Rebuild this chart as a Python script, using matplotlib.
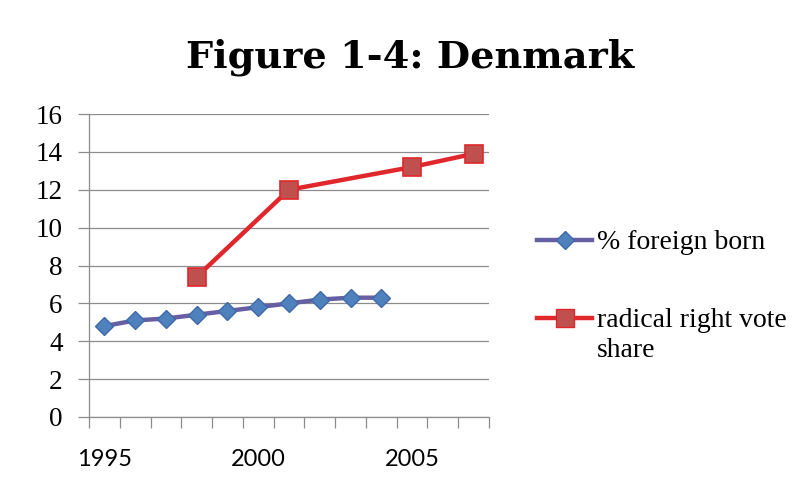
import numpy as np
import matplotlib.pyplot as plt
from matplotlib.lines import Line2D

# ------------------------------------------------------------------
# data
# ------------------------------------------------------------------
years = list(range(1995, 2008))
foreign_years = [1995, 1996, 1997, 1998, 1999, 2000, 2001, 2002, 2003, 2004]
foreign_born = [4.8, 5.1, 5.2, 5.4, 5.6, 5.8, 6.0, 6.2, 6.3, 6.3]
radical_years = [1998, 2001, 2005, 2007]
radical_share = [7.4, 12.0, 13.2, 13.9]
year_labels = ["1995", "2000", "2005"]
ytick_vals = [0, 2, 4, 6, 8, 10, 12, 14, 16]

# category positions (Excel-style category axis)
pos = {y: i for i, y in enumerate(years)}
fx = [pos[y] for y in foreign_years]
rx = [pos[y] for y in radical_years]

# colours
purple_line = "#675FA4"
blue_fill = "#4F81BD"
blue_edge = "#3F68AA"
red_line = "#E0282C"
red_fill = "#C0504D"
red_edge = "#E0262B"
grid_col = "#8C8C8C"

fig = plt.figure(figsize=(8.06, 4.99), dpi=100)
ax = fig.add_axes([89 / 806, 1 - 417 / 499, 400 / 806, 303 / 499])

ax.plot(fx, foreign_born, color=purple_line, linewidth=3.2, marker="D",
        markersize=9, markerfacecolor=blue_fill, markeredgecolor=blue_edge,
        markeredgewidth=1.0, zorder=3)
ax.plot(rx, radical_share, color=red_line, linewidth=3.2, marker="s",
        markersize=13, markerfacecolor=red_fill, markeredgecolor=red_edge,
        markeredgewidth=1.2, zorder=3)

ax.set_xlim(-0.5, len(years) - 0.5)
ax.set_ylim(0, 16)

# y axis
ax.set_yticks(ytick_vals)
ax.set_yticklabels([str(v) for v in ytick_vals], family="Liberation Serif", fontsize=19.5)
ax.yaxis.grid(True, color=grid_col, linewidth=0.9)
ax.set_axisbelow(True)
ax.tick_params(axis="y", length=8, color=grid_col, width=0.9, pad=11)

# x axis: labels every 5 years, tick marks between categories
ax.set_xticks([pos[int(s)] for s in year_labels])
ax.set_xticklabels(year_labels, family="Lato", fontsize=17)
ax.set_xticks(np.arange(-0.5, len(years), 1.0), minor=True)
ax.tick_params(axis="x", which="major", length=0, pad=23)
ax.tick_params(axis="x", which="minor", length=8, color=grid_col, width=0.9)

for s in ["top", "right"]:
    ax.spines[s].set_visible(False)
for s in ["left", "bottom"]:
    ax.spines[s].set_color(grid_col)
    ax.spines[s].set_linewidth(0.9)

fig.text(410 / 806, 1 - 57 / 499, "Figure 1-4: Denmark", ha="center", va="center",
         family="DejaVu Serif", fontweight="bold", fontsize=27.5)

# legend drawn on the figure
leg_items = [
    ("% foreign born", purple_line, "D", 9, blue_fill, blue_edge, 240),
    ("radical right vote\nshare", red_line, "s", 13, red_fill, red_edge, 318),
]
for label, lc, mk, ms, mf, me, ypx in leg_items:
    yf = 1 - ypx / 499
    fig.add_artist(Line2D([537 / 806, 592 / 806], [yf, yf], transform=fig.transFigure,
                          color=lc, linewidth=3.2))
    fig.add_artist(Line2D([564.5 / 806], [yf], transform=fig.transFigure, marker=mk,
                          markersize=ms, markerfacecolor=mf, markeredgecolor=me,
                          linestyle="none"))
    fig.text(597 / 806, yf + 0.021, label, ha="left", va="top", family="Liberation Serif",
             fontsize=20, linespacing=1.3)

fig.savefig("out.png", dpi=100)
